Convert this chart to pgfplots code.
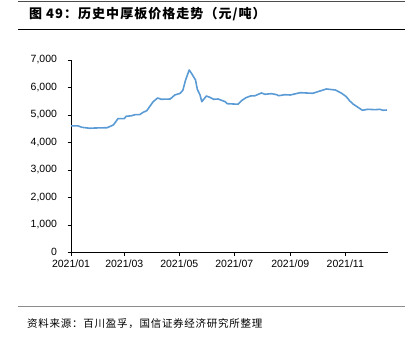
\documentclass[border=0pt]{standalone}
\usepackage{pgfplots}
\pgfplotsset{compat=1.18}
\usepackage{fontspec}
\setmainfont{Liberation Sans}
\newfontfamily\cjk{Noto Sans CJK SC}
\newfontfamily\cjktitle[LetterSpace=8]{Noto Sans CJK SC}
\newfontfamily\cjkfoot[LetterSpace=7]{Noto Sans CJK SC}
\definecolor{lineblue}{RGB}{91,155,213}
\begin{document}
\begin{tikzpicture}[x=1bp,y=1bp]
\path[use as bounding box] (0,0) rectangle (418,340);
\draw[line width=0.8bp, black!70] (18,338.8) -- (405,338.8);
\draw[line width=0.8bp, black] (18,311) -- (405,311);
\node[anchor=west, inner sep=0] at (29,325.5) {\fontsize{13bp}{15bp}\selectfont\bfseries\cjktitle 图 49：历史中厚板价格走势（元/吨）};
\draw[line width=1bp, black!45] (18,33.3) -- (405,33.3);
\node[anchor=west, inner sep=0] at (27,16) {\fontsize{10.5bp}{12bp}\selectfont\cjkfoot 资料来源：百川盈孚，国信证券经济研究所整理};
\begin{axis}[
  at={(71bp,87.7bp)}, anchor=origin,
  scale only axis, width=316.7bp, height=192.3bp,
  xmin=0, xmax=351, ymin=0, ymax=7000,
  axis x line*=bottom, axis y line*=left,
  axis line style={black, line width=0.6bp},
  xtick={0,59,120,181,243,304},
  xticklabels={2021/01,2021/03,2021/05,2021/07,2021/09,2021/11},
  ytick={0,1000,2000,3000,4000,5000,6000,7000},
  tick align=outside, major tick length=3.5bp,
  tick style={black, line width=0.6bp},
  /pgf/number format/assume math mode=true,
  /pgf/number format/.cd, 1000 sep={,}, /pgfplots/.cd,
  ticklabel style={font=\fontsize{10.5bp}{12bp}\selectfont},
  yticklabel style={anchor=east, xshift=-7bp},
  xticklabel style={anchor=north, yshift=-1bp},
  axis line style={-},
  clip=false,
]
\addplot[lineblue, line width=1.6bp, line join=round] coordinates {
(0,4600) (8,4600) (12,4550) (21,4515) (27,4525) (40,4535) (47,4635) (51,4815) (52,4865) (59,4865)
(61,4950) (67,4970) (71,5010) (76,5010) (80,5095) (84,5155) (91,5480) (96,5617) (100,5570) (110,5580)
(115,5726) (121,5788) (124,5900) (127,6272) (131,6636) (134,6490) (138,6272) (140,5933) (143,5726) (145,5482)
(150,5690) (154,5640) (158,5570) (163,5580) (171,5482) (173,5410) (185,5390) (189,5520) (194,5630) (199,5690)
(204,5700) (211,5800) (215,5752) (222,5775) (228,5737) (230,5700) (237,5737) (243,5726) (254,5810) (268,5788)
(276,5872) (283,5945) (293,5908) (300,5788) (305,5667) (309,5508) (313,5388) (318,5279) (323,5170) (329,5206)
(337,5191) (342,5206) (346,5170) (350,5180)
};
\end{axis}
\end{tikzpicture}
\end{document}
